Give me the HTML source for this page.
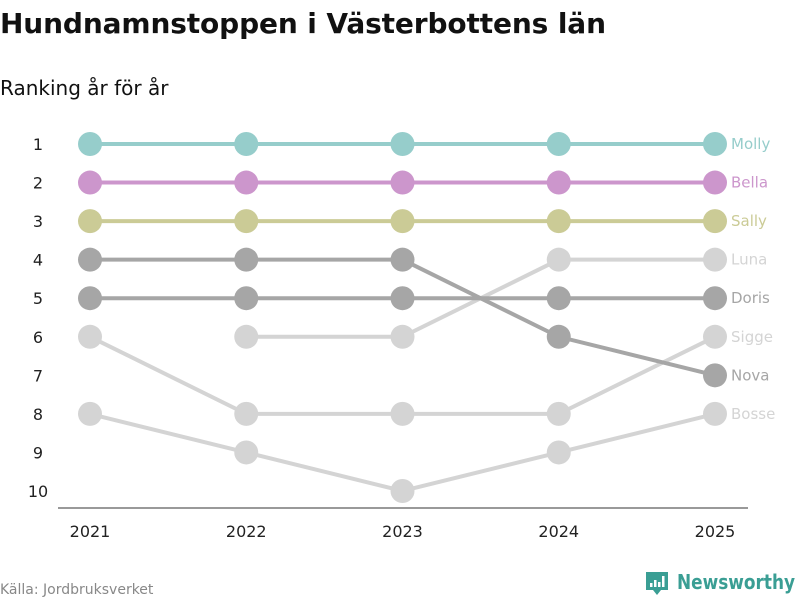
<!DOCTYPE html>
<html><head><meta charset="utf-8">
<style>
body{margin:0;width:800px;height:600px;background:#fff;font-family:"DejaVu Sans","Liberation Sans",sans-serif;overflow:hidden}
</style></head><body>
<svg id="c" width="800" height="600" xmlns="http://www.w3.org/2000/svg">
<text x="0" y="33" font-size="28" font-weight="bold" fill="#111" textLength="606">Hundnamnstoppen i Västerbottens län</text>
<text x="0" y="95" font-size="20" fill="#111">Ranking år för år</text>
<line x1="58" y1="508" x2="748" y2="508" stroke="#333" stroke-width="1"/>
<text x="0" y="594" font-size="14" fill="#888">Källa: Jordbruksverket</text>
<g>
<path d="M646 572h22v18h-7l-4 5-4-5h-7z" fill="#3a9e94"/>
<rect x="650" y="583" width="2.5" height="4" fill="#fff"/><rect x="654" y="580" width="2.5" height="7" fill="#fff"/><rect x="658" y="582" width="2.5" height="5" fill="#fff"/><rect x="662" y="576" width="2.5" height="11" fill="#fff"/>
<text x="677" y="589" font-size="20" font-weight="bold" fill="#3a9e94" textLength="118" lengthAdjust="spacingAndGlyphs">Newsworthy</text>
</g>
<g id="plot"></g>
</svg>
<script>
const years=[2021,2022,2023,2024,2025];
const rankTicks=[1,2,3,4,5,6,7,8,9,10];
const molly=[1,1,1,1,1];
const bella=[2,2,2,2,2];
const sally=[3,3,3,3,3];
const nova=[4,4,4,6,7];
const doris=[5,5,5,5,5];
const luna=[null,6,6,4,4];
const sigge=[6,8,8,8,6];
const bosse=[8,9,10,9,8];
const seriesData={Molly:molly,Bella:bella,Sally:sally,Nova:nova,Doris:doris,Luna:luna,Sigge:sigge,Bosse:bosse};
const colors={Molly:"#96cdcb",Bella:"#cc96cc",Sally:"#cbcb96",Nova:"#a6a6a6",Doris:"#a6a6a6",Luna:"#d4d4d4",Sigge:"#d4d4d4",Bosse:"#d4d4d4"};
const ns="http://www.w3.org/2000/svg";
const x=i=>90+i*156.25;
const y=r=>144+(r-1)*(491-144)/9;
const g=document.getElementById('plot');
function mk(t,a){const e=document.createElementNS(ns,t);for(const k in a)e.setAttribute(k,a[k]);g.appendChild(e);return e;}
rankTicks.forEach(r=>{const t=mk('text',{x:38,y:y(r)+6,'font-size':16,fill:'#222','text-anchor':'middle'});t.textContent=r;

});
years.forEach((yr,i)=>{const t=mk('text',{x:x(i),y:537,'font-size':16,fill:'#222','text-anchor':'middle'});t.textContent=yr;

});
const order=["Bosse","Sigge","Luna","Doris","Nova","Sally","Bella","Molly"];
order.forEach(n=>{const v=seriesData[n];let d="";v.forEach((r,i)=>{if(r==null)return;d+=(d?"L":"M")+x(i)+" "+y(r);});
const p=mk('path',{d:d,fill:'none',stroke:colors[n],'stroke-width':4});


v.forEach((r,i)=>{if(r==null)return;const c=mk('circle',{cx:x(i),cy:y(r),r:12,fill:colors[n]});

});
const t=mk('text',{x:x(4)+16,y:y(v[4])+5,'font-size':15,fill:colors[n]});t.textContent=n;

});
</script>
</body></html>
